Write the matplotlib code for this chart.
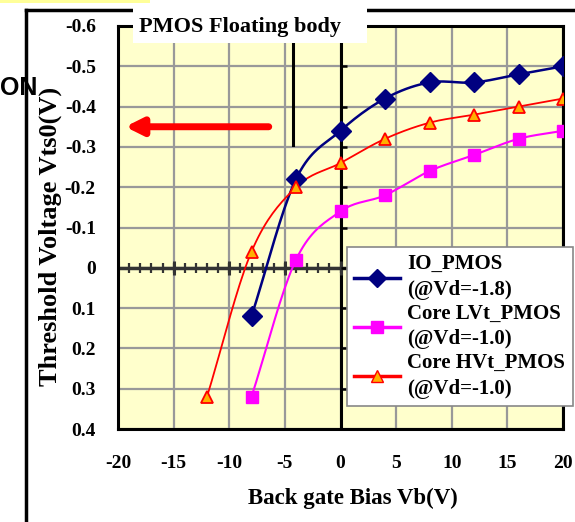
import numpy as np
import matplotlib
matplotlib.use('Agg')
import matplotlib.pyplot as plt
from matplotlib.lines import Line2D
from matplotlib.patches import Rectangle

# data
vb_io = [-8, -4, 0, 4, 8, 12, 16, 20]
vt_io = [0.12, -0.22, -0.34, -0.42, -0.46, -0.46, -0.48, -0.50]
vb_lvt = [-8, -4, 0, 4, 8, 12, 16, 20]
vt_lvt = [0.32, -0.02, -0.14, -0.18, -0.24, -0.28, -0.32, -0.34]
vb_hvt = [-12, -8, -4, 0, 4, 8, 12, 16, 20]
vt_hvt = [0.32, -0.04, -0.20, -0.26, -0.32, -0.36, -0.38, -0.40, -0.42]

labels = ['IO_PMOS\n(@Vd=-1.8)', 'Core LVt_PMOS\n(@Vd=-1.0)', 'Core HVt_PMOS\n(@Vd=-1.0)']
x_ticks = [-20, -15, -10, -5, 0, 5, 10, 15, 20]
y_ticks = [-0.6, -0.5, -0.4, -0.3, -0.2, -0.1, 0, 0.1, 0.2, 0.3, 0.4]
y_ticklabels = ['-0.6', '-0.5', '-0.4', '-0.3', '-0.2', '-0.1', '0', '0.1', '0.2', '0.3', '0.4']

SERIF = ['Liberation Serif', 'DejaVu Serif']
plt.rcParams['axes.unicode_minus'] = False


def smooth(x, y, n=20):
    """Excel-like smoothed line (Catmull-Rom through the points)."""
    x = np.asarray(x, float); y = np.asarray(y, float)
    px = np.concatenate([[2 * x[0] - x[1]], x, [2 * x[-1] - x[-2]]])
    py = np.concatenate([[2 * y[0] - y[1]], y, [2 * y[-1] - y[-2]]])
    t = np.linspace(0, 1, n)[:, None]
    xs, ys = [], []
    for i in range(1, len(px) - 2):
        for p, out in ((px, xs), (py, ys)):
            p0, p1, p2, p3 = p[i - 1], p[i], p[i + 1], p[i + 2]
            c = 0.5 * ((2 * p1) + (-p0 + p2) * t + (2 * p0 - 5 * p1 + 4 * p2 - p3) * t ** 2
                       + (-p0 + 3 * p1 - 3 * p2 + p3) * t ** 3)
            out.append(c.ravel())
    return np.concatenate(xs), np.concatenate(ys)


fig = plt.figure(figsize=(5.75, 5.22), dpi=100)
W, H = 575, 522
ax = fig.add_axes([118 / W, 1 - 429 / H, 445 / W, 403 / H])
ax.set_facecolor('#FFFFCC')
ax.set_xlim(-20, 20)
ax.set_ylim(0.4, -0.6)

ax.set_xticks(x_ticks)
ax.set_xticklabels([str(v) for v in x_ticks])
ax.set_yticks(y_ticks)
ax.set_yticklabels(y_ticklabels)
ax.grid(True, color='#999999', lw=1.6, zorder=0)
ax.tick_params(length=0, pad=16, labelsize=14)
ax.tick_params(axis='x', pad=19)
for lab in ax.get_xticklabels() + ax.get_yticklabels():
    lab.set_fontfamily(SERIF); lab.set_fontweight('bold')
for s in ax.spines.values():
    s.set_linewidth(2.2); s.set_color('black')

# axes crossing at zero (Excel style)
ax.axhline(0, color='#333333', lw=2.5, zorder=2)
ax.axvline(0, color='black', lw=2.2, zorder=2)
minor = np.arange(-20, 21)
ax.vlines(minor, -0.012, 0.012, color='#333333', lw=1.6, zorder=2)
ax.vlines(x_ticks, -0.018, 0.018, color='#333333', lw=2.2, zorder=2)
ax.hlines(y_ticks, 0, 0.6, color='black', lw=1.8, zorder=2)

# series
sx, sy = smooth(vb_io, vt_io)
ax.plot(sx, sy, color='#000080', lw=1.8, zorder=4)
ax.plot(vb_io, vt_io, ls='none', marker='D', ms=10, color='#000080', zorder=5)
sx, sy = smooth(vb_lvt, vt_lvt)
ax.plot(sx, sy, color='#FF00FF', lw=1.5, zorder=4)
ax.plot(vb_lvt, vt_lvt, ls='none', marker='s', ms=8.5, color='#FF00FF', zorder=5)
sx, sy = smooth(vb_hvt, vt_hvt)
ax.plot(sx, sy, color='#FF0000', lw=1.3, zorder=4)
ax.plot(vb_hvt, vt_hvt, ls='none', marker='^', ms=9, mfc='#FFB000', mec='#FF0000', mew=1.3, zorder=5)

handles = [
    Line2D([], [], color='#000080', lw=2.5, marker='D', ms=9),
    Line2D([], [], color='#FF00FF', lw=2.5, marker='s', ms=8),
    Line2D([], [], color='#FF0000', lw=2.5, marker='^', ms=8, mfc='#FFB000', mec='#FF0000'),
]
leg = fig.legend(handles, labels, loc='upper left', bbox_to_anchor=(347 / W, 1 - 247 / H),
                 prop={'family': SERIF, 'weight': 'bold', 'size': 15}, frameon=True,
                 fancybox=False, edgecolor='#888888', framealpha=1, borderpad=0.35,
                 handlelength=2.2, handletextpad=0.35, labelspacing=0.15, borderaxespad=0)
for t in leg.get_texts():
    t.set_linespacing(1.4)
leg.get_frame().set_linewidth(1.2)
leg.set_zorder(10)

ax.set_xlabel('Back gate Bias Vb(V)', fontfamily=SERIF, fontweight='bold', fontsize=16.5)
ax.xaxis.set_label_coords((353 - 118) / 445, -(498 - 429) / 403)
ax.xaxis.label.set_va('center')
ax.set_ylabel('Threshold Voltage Vts0(V)', fontfamily=SERIF, fontweight='bold', fontsize=19)
ax.yaxis.set_label_coords(-(118 - 50) / 445, (429 - 236) / 403)
ax.yaxis.label.set_va('center')

# arrow and marker line inside plot
ax.annotate('', xy=(-19.6, -0.35), xytext=(-6.2, -0.35),
            arrowprops=dict(arrowstyle='-|>,head_length=1.0,head_width=0.5', color='#FF0000', lw=5),
            zorder=6)
ax.plot([-4.3, -4.3], [-0.555, -0.305], color='black', lw=2.2, zorder=6)

# slide decorations
fig.add_artist(Rectangle((0, 1 - 3 / H), 150 / W, 3 / H, transform=fig.transFigure,
                         color='#FFFF99', lw=0))
fig.add_artist(Line2D([26 / W, 26 / W], [0, 1 - 10 / H], color='black', lw=2.5, transform=fig.transFigure))
fig.add_artist(Line2D([26 / W, 1], [1 - 10 / H, 1 - 10 / H], color='black', lw=2.5, transform=fig.transFigure))
fig.add_artist(Rectangle((133 / W, 1 - 43 / H), 234 / W, 40 / H, transform=fig.transFigure,
                         facecolor='white', lw=0, zorder=8))
fig.text(139 / W, 1 - 27 / H, 'PMOS Floating body', fontfamily=SERIF, fontweight='bold',
         fontsize=16, va='center', ha='left', zorder=9)
fig.text(0, 1 - 88 / H, 'ON', fontfamily=['Liberation Sans', 'DejaVu Sans'], fontweight='bold',
         fontsize=18, va='center', ha='left')

fig.savefig('out.png', dpi=100)
